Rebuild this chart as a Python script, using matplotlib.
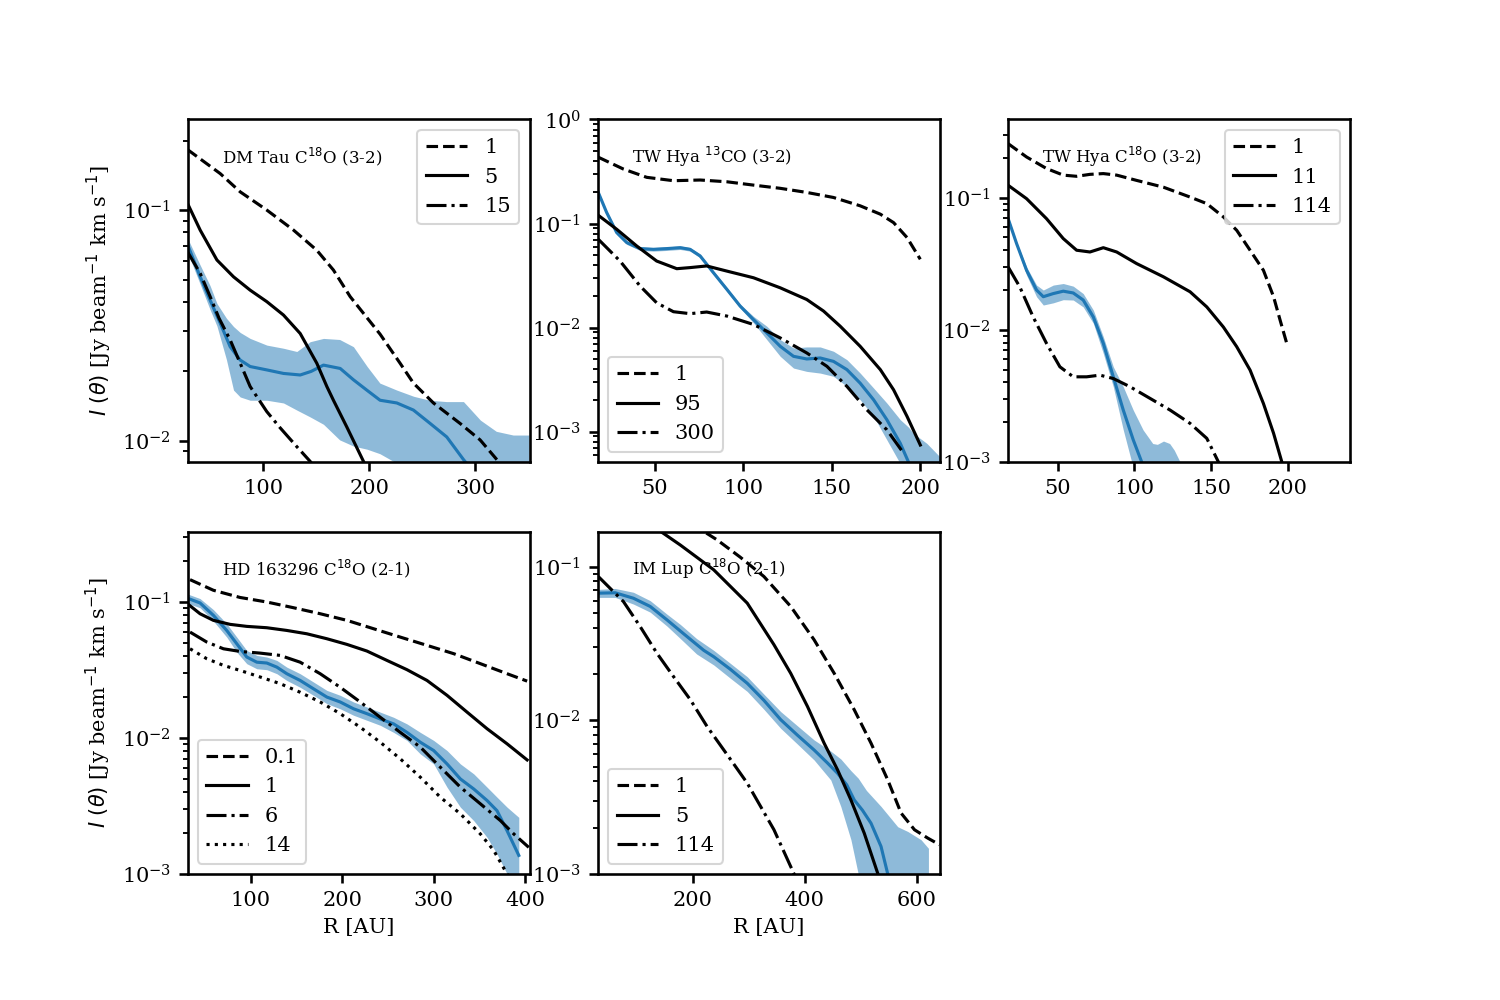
import matplotlib
matplotlib.use('Agg')
import matplotlib.pyplot as plt

plt.rcParams['font.family'] = ['DejaVu Serif']
plt.rcParams['mathtext.fontset'] = 'dejavusans'
plt.rcParams['axes.linewidth'] = 1.25
plt.rcParams['xtick.major.width'] = 1.25
plt.rcParams['ytick.major.width'] = 1.25
plt.rcParams['xtick.major.size'] = 4.5
plt.rcParams['ytick.major.size'] = 4.5
plt.rcParams['ytick.minor.width'] = 0.9
plt.rcParams['ytick.minor.size'] = 2.5

# ---------------- DM Tau C18O (3-2) ----------------
dm_labels = ['1', '5', '15']
dm_r_m1 = [28.2, 59.1, 78.0, 103.2, 128.3, 150.4, 166.1, 181.9, 210.2, 229.1, 241.7, 260.6, 285.8, 304.7, 320.5, 335.0]
dm_i_m1 = [0.183, 0.144, 0.120, 0.100, 0.082, 0.067, 0.055, 0.0422, 0.0290, 0.0217, 0.0178, 0.0146, 0.0119, 0.0101, 0.0083, 0.0070]
dm_r_m2 = [28.2, 40.2, 56.0, 71.7, 87.4, 103.2, 118.9, 134.7, 150.4, 159.9, 166.1, 178.7, 194.5, 205.0]
dm_i_m2 = [0.107, 0.0819, 0.0608, 0.0514, 0.0450, 0.0401, 0.0351, 0.0292, 0.0217, 0.0172, 0.0150, 0.0115, 0.00815, 0.0065]
dm_r_m3 = [28.2, 40.2, 49.6, 58.0, 68.5, 78.0, 87.4, 103.1, 115.7, 131.5, 144.1, 155.0]
dm_i_m3 = [0.0660, 0.0532, 0.0422, 0.0340, 0.0274, 0.0217, 0.0172, 0.0134, 0.0114, 0.00944, 0.00815, 0.0070]
dm_r = [28.2, 40.2, 49.6, 59.1, 68.5, 78.0, 87.4, 103.2, 118.9, 134.7, 145.0, 156.7, 172.5, 185.0, 197.6, 210.2, 226.0, 241.7, 257.5, 273.2, 289.0, 300.0]
dm_i = [0.0710, 0.0514, 0.0407, 0.0324, 0.0256, 0.0224, 0.0210, 0.0203, 0.0196, 0.0193, 0.0200, 0.0213, 0.0206, 0.0184, 0.0166, 0.0150, 0.0146, 0.0136, 0.0119, 0.0104, 0.0083, 0.0072]
dm_band_r = [28, 40, 49.6, 56, 65, 71.7, 78, 87.4, 103.2, 118.9, 131.5, 144.1, 156.7, 172, 185, 198, 210, 226, 242, 257, 273, 289, 305, 320, 336, 351]
dm_hi = [0.0760, 0.058, 0.047, 0.0394, 0.034, 0.0313, 0.0295, 0.0278, 0.0260, 0.0252, 0.0244, 0.0269, 0.0278, 0.0275, 0.0256, 0.0210, 0.0178, 0.0166, 0.0156, 0.0150, 0.0148, 0.0148, 0.0123, 0.0110, 0.0106, 0.0106]
dm_lo = [0.0660, 0.048, 0.037, 0.0315, 0.0225, 0.0166, 0.0155, 0.0150, 0.0150, 0.0146, 0.0136, 0.0127, 0.0118, 0.0101, 0.0095, 0.0092, 0.0088, 0.0080, 0.0075, 0.0070, 0.0065, 0.0060, 0.0055, 0.0050, 0.0050, 0.0050]

# ---------------- TW Hya 13CO (3-2) ----------------
tw13_labels = ['1', '95', '300']
tw13_r_m1 = [17.9, 32.1, 45.3, 60.4, 75.5, 90.6, 105.7, 120.8, 135.8, 150.9, 166.0, 177.4, 184.9, 192.5, 200.0]
tw13_i_m1 = [0.434, 0.334, 0.278, 0.258, 0.262, 0.252, 0.234, 0.218, 0.199, 0.178, 0.148, 0.123, 0.102, 0.0733, 0.0453]
tw13_r_m2 = [17.9, 28.3, 39.6, 50.9, 62.3, 69.8, 79.2, 90.6, 105.7, 120.8, 135.8, 145.3, 154.7, 166.0, 177.4, 184.9, 192.5, 200.0]
tw13_i_m2 = [0.120, 0.0881, 0.0609, 0.0436, 0.0368, 0.0377, 0.0391, 0.0349, 0.0301, 0.0241, 0.0186, 0.0144, 0.0103, 0.0066, 0.00394, 0.00252, 0.0014, 0.000743]
tw13_r_m3 = [17.9, 30.2, 41.5, 50.9, 60.4, 69.8, 79.2, 90.6, 105.7, 120.8, 135.8, 147.2, 158.5, 169.8, 181.1, 190.6]
tw13_i_m3 = [0.0706, 0.0436, 0.0251, 0.0173, 0.0142, 0.0136, 0.0141, 0.0129, 0.0107, 0.00795, 0.0057, 0.00424, 0.00272, 0.00162, 0.00104, 0.000618]
tw13_r = [17.9, 22.6, 28.3, 34.0, 41.5, 49.1, 56.6, 64.2, 69.8, 75.5, 83.0, 90.6, 98.1, 105.7, 113.2, 120.8, 128.3, 135.8, 143.4, 150.9, 158.5, 166.0, 173.6, 181.1, 188.7, 193.4]
tw13_i = [0.199, 0.128, 0.0819, 0.0656, 0.0574, 0.0565, 0.0574, 0.0586, 0.0565, 0.0488, 0.0337, 0.0233, 0.0161, 0.0119, 0.00889, 0.0066, 0.00529, 0.00499, 0.00510, 0.00473, 0.00394, 0.00292, 0.00202, 0.0013, 0.00077, 0.000506]
tw13_band_r = [17.9, 22.6, 28.3, 34.0, 41.5, 49.1, 56.6, 64.2, 69.8, 75.5, 83.0, 90.6, 98.1, 105.7, 113.2, 120.8, 128.3, 135.8, 143.4, 150.9, 158.5, 166.0, 173.6, 181.1, 188.7, 193.4, 196.0, 203.7, 211.0]
tw13_hi = [0.207, 0.133, 0.085, 0.068, 0.0596, 0.0587, 0.0596, 0.0609, 0.0587, 0.0507, 0.0350, 0.0243, 0.0168, 0.0128, 0.0103, 0.00766, 0.00637, 0.00651, 0.00651, 0.00592, 0.00491, 0.00365, 0.00262, 0.00188, 0.00130, 0.00110, 0.000964, 0.00077, 0.000574]
tw13_lo = [0.191, 0.123, 0.0787, 0.063, 0.0551, 0.0543, 0.0551, 0.0563, 0.0543, 0.0469, 0.0324, 0.0223, 0.0154, 0.0111, 0.00766, 0.00529, 0.00408, 0.00379, 0.00365, 0.0034, 0.00272, 0.00202, 0.0014, 0.000832, 0.00049, 0.0004, 0.0004, 0.0004, 0.0004]

# ---------------- TW Hya C18O (3-2) ----------------
tw18_labels = ['1', '11', '114']
tw18_r_m1 = [17.8, 29.8, 42.8, 53.7, 62.4, 71.1, 79.8, 88.5, 101.5, 118.9, 136.3, 147.2, 158.0, 166.7, 175.4, 184.1, 190.7, 195.0, 199.3]
tw18_i_m1 = [0.256, 0.203, 0.166, 0.148, 0.145, 0.150, 0.152, 0.148, 0.135, 0.120, 0.101, 0.0901, 0.0715, 0.0566, 0.040, 0.0282, 0.0178, 0.0118, 0.00789]
tw18_r_m2 = [17.8, 29.8, 42.8, 53.7, 62.4, 71.1, 79.8, 88.5, 101.5, 118.9, 136.3, 147.2, 158.0, 166.7, 175.4, 184.1, 190.7, 196.1, 200.0]
tw18_i_m2 = [0.124, 0.0982, 0.0693, 0.0490, 0.040, 0.0388, 0.0418, 0.0388, 0.0317, 0.0252, 0.0194, 0.0149, 0.0105, 0.00745, 0.00496, 0.00277, 0.00165, 0.001, 0.0007]
tw18_r_m3 = [17.8, 25.4, 34.1, 42.8, 51.5, 60.2, 68.9, 77.6, 86.3, 97.2, 110.2, 123.3, 136.3, 147.2, 154.8, 160.0]
tw18_i_m3 = [0.0299, 0.0211, 0.0125, 0.00789, 0.00525, 0.00441, 0.00441, 0.00454, 0.00428, 0.00371, 0.00303, 0.00247, 0.00196, 0.00151, 0.001, 0.0008]
tw18_r = [17.8, 23.3, 29.8, 36.3, 40.7, 47.2, 53.7, 60.2, 66.7, 73.3, 79.8, 86.3, 92.8, 99.3, 104.8, 110.0]
tw18_i = [0.0693, 0.0449, 0.0282, 0.020, 0.0178, 0.0188, 0.0196, 0.0190, 0.0168, 0.0125, 0.00789, 0.00441, 0.00247, 0.00147, 0.001, 0.0007]
tw18_band_r = [17.8, 23.3, 29.8, 36.3, 40.7, 47.2, 53.7, 60.2, 66.7, 73.3, 79.8, 86.3, 92.8, 99.3, 105.7, 112.0, 115.0, 119.0, 123.0, 126.0, 130.0]
tw18_hi = [0.0720, 0.0463, 0.0299, 0.0218, 0.0200, 0.0218, 0.0224, 0.0214, 0.0188, 0.0141, 0.00885, 0.00525, 0.00371, 0.00247, 0.00175, 0.00138, 0.00136, 0.00144, 0.00138, 0.00123, 0.00099]
tw18_lo = [0.0674, 0.0424, 0.0259, 0.0178, 0.0154, 0.0160, 0.0169, 0.0168, 0.0149, 0.0112, 0.00662, 0.00371, 0.00175, 0.0009, 0.0007, 0.0007, 0.0007, 0.0007, 0.0007, 0.0007, 0.0007]

# ---------------- HD 163296 C18O (2-1) ----------------
hd_labels = ['0.1', '1', '6', '14']
hd_r_m1 = [33.6, 59.1, 88.3, 117.5, 146.7, 175.9, 205.1, 234.3, 263.5, 292.7, 321.9, 351.1, 380.3, 402.2]
hd_i_m1 = [0.146, 0.122, 0.108, 0.100, 0.0908, 0.082, 0.0733, 0.0636, 0.0552, 0.048, 0.0417, 0.0352, 0.0297, 0.0262]
hd_r_m2 = [30.7, 44.5, 59.1, 77.4, 95.6, 117.5, 139.4, 161.3, 183.2, 205.1, 227.0, 248.9, 270.8, 292.7, 314.6, 336.5, 358.4, 380.3, 402.2]
hd_i_m2 = [0.0972, 0.082, 0.0733, 0.0685, 0.0662, 0.0647, 0.0618, 0.0584, 0.0537, 0.0488, 0.0436, 0.0372, 0.0318, 0.0265, 0.0206, 0.0155, 0.0117, 0.00906, 0.0069]
hd_r_m3 = [33.6, 51.8, 70.1, 88.3, 110.2, 132.1, 154.0, 175.9, 197.8, 219.7, 241.6, 263.5, 285.4, 307.3, 329.2, 351.1, 373.0, 387.6, 404.0]
hd_i_m3 = [0.0601, 0.0508, 0.0453, 0.0433, 0.0421, 0.0405, 0.0361, 0.0297, 0.0236, 0.0184, 0.0142, 0.011, 0.00857, 0.0061, 0.00435, 0.00328, 0.00247, 0.00197, 0.00157]
hd_r_m4 = [33.6, 51.8, 70.1, 88.3, 110.2, 132.1, 154.0, 175.9, 197.8, 219.7, 241.6, 263.5, 285.4, 307.3, 329.2, 351.1, 365.7, 380.3, 390.0]
hd_i_m4 = [0.0453, 0.0383, 0.0342, 0.0314, 0.0281, 0.0251, 0.0217, 0.0184, 0.0151, 0.0120, 0.00931, 0.00703, 0.00515, 0.00367, 0.00277, 0.00197, 0.00149, 0.001, 0.0008]
hd_r = [31.8, 44.5, 59.1, 73.7, 84.7, 95.6, 106.6, 117.5, 128.5, 139.4, 154.0, 168.6, 183.2, 197.8, 212.4, 227.0, 241.6, 256.2, 270.8, 285.4, 300.0, 314.6, 329.2, 343.8, 358.4, 369.3, 380.3, 393.1]
hd_i = [0.106, 0.0984, 0.0798, 0.0618, 0.0493, 0.0394, 0.0361, 0.0356, 0.0332, 0.0297, 0.0265, 0.023, 0.020, 0.0184, 0.0164, 0.0151, 0.0138, 0.0127, 0.011, 0.00931, 0.00809, 0.00645, 0.005, 0.00422, 0.00347, 0.00292, 0.00208, 0.00137]
hd_hi = [0.114, 0.106, 0.0879, 0.0692, 0.0552, 0.044, 0.0405, 0.0394, 0.0372, 0.0332, 0.0297, 0.0258, 0.0224, 0.0206, 0.0184, 0.0169, 0.0155, 0.0142, 0.0127, 0.011, 0.0096, 0.00809, 0.00645, 0.00545, 0.00435, 0.00367, 0.0031, 0.00261]
hd_lo = [0.0972, 0.0908, 0.0725, 0.0552, 0.0428, 0.0352, 0.0323, 0.0318, 0.0297, 0.0265, 0.0236, 0.0206, 0.0179, 0.0164, 0.0147, 0.0135, 0.0124, 0.011, 0.0096, 0.00764, 0.00645, 0.00435, 0.0031, 0.00247, 0.00186, 0.0014, 0.001, 0.0007]

# ---------------- IM Lup C18O (2-1) ----------------
im_labels = ['1', '5', '114']
im_r_m1 = [200.0, 220.0, 243.7, 285.0, 327.2, 375.0, 416.7, 452.6, 488.4, 518.3, 548.2, 572.0, 595.9, 619.8, 640.6]
im_i_m1 = [0.19, 0.169, 0.149, 0.115, 0.0861, 0.055, 0.0334, 0.0202, 0.0117, 0.0071, 0.00409, 0.00249, 0.00194, 0.00171, 0.00155]
im_r_m2 = [120.0, 143.0, 178.0, 237.6, 297.4, 345.1, 375.0, 404.9, 434.6, 458.6, 482.5, 506.3, 530.3, 545.0]
im_i_m2 = [0.195, 0.169, 0.138, 0.0952, 0.0578, 0.0310, 0.0202, 0.0123, 0.0071, 0.00476, 0.00303, 0.00184, 0.00101, 0.0007]
im_r_m3 = [31.6, 76.4, 106.3, 136.2, 166.0, 195.9, 225.8, 267.0, 297.4, 345.1, 381.0, 395.0]
im_i_m3 = [0.0861, 0.0592, 0.0407, 0.0273, 0.0192, 0.0136, 0.0091, 0.0056, 0.0039, 0.00194, 0.0010, 0.0008]
im_r = [31.6, 61.6, 94.3, 124.2, 154.1, 184.0, 219.8, 237.6, 267.0, 297.4, 327.0, 357.0, 387.0, 416.7, 440.0, 458.6, 475.0, 488.4, 503.0, 518.3, 536.2, 548.2]
im_i = [0.0671, 0.0675, 0.0622, 0.0550, 0.0450, 0.0365, 0.0285, 0.0259, 0.0215, 0.0174, 0.0135, 0.0101, 0.0080, 0.00641, 0.0053, 0.00452, 0.0038, 0.00303, 0.0026, 0.00214, 0.00151, 0.0010]
im_band_r = [31.6, 61.6, 94.3, 124.2, 154.1, 178.0, 207.0, 237.6, 267.0, 297.4, 327.0, 357.0, 387.0, 416.7, 446.5, 464.4, 482.5, 495.5, 510.0, 536.2, 566.0, 584.0, 607.7, 620.8]
im_hi = [0.071, 0.072, 0.068, 0.060, 0.049, 0.0420, 0.0340, 0.0285, 0.0235, 0.0192, 0.0148, 0.0114, 0.0092, 0.00745, 0.0063, 0.0056, 0.0047, 0.0042, 0.0035, 0.00275, 0.00203, 0.00189, 0.00167, 0.00147]
im_lo = [0.063, 0.063, 0.057, 0.0505, 0.041, 0.0340, 0.0270, 0.0229, 0.0188, 0.0154, 0.0118, 0.00887, 0.0070, 0.00552, 0.00409, 0.00275, 0.00167, 0.0010, 0.0007, 0.0007, 0.0007, 0.0007, 0.0007, 0.0007]

titles = [r'DM Tau C$^{18}$O (3-2)', r'TW Hya $^{13}$CO (3-2)', r'TW Hya C$^{18}$O (3-2)',
          r'HD 163296 C$^{18}$O (2-1)', r'IM Lup C$^{18}$O (2-1)']
ylabel = r'$I\ (\theta)$ [Jy beam$^{-1}$ km s$^{-1}$]'
xlabel = 'R [AU]'

panels = [
    dict(models=[(dm_r_m1, dm_i_m1, '--'), (dm_r_m2, dm_i_m2, '-'), (dm_r_m3, dm_i_m3, '-.')],
         labels=dm_labels, r=dm_r, i=dm_i, br=dm_band_r, hi=dm_hi, lo=dm_lo,
         pos=[0.125, 0.538, 0.228, 0.3425], xlim=(28.2, 351.4), ylim=(0.0081, 0.247),
         loc='upper right', ylab=True, xlab=False),
    dict(models=[(tw13_r_m1, tw13_i_m1, '--'), (tw13_r_m2, tw13_i_m2, '-'), (tw13_r_m3, tw13_i_m3, '-.')],
         labels=tw13_labels, r=tw13_r, i=tw13_i, br=tw13_band_r, hi=tw13_hi, lo=tw13_lo,
         pos=[0.3985, 0.538, 0.228, 0.3425], xlim=(17.6, 211.0), ylim=(5.1e-4, 1.0),
         loc='lower left', ylab=False, xlab=False),
    dict(models=[(tw18_r_m1, tw18_i_m1, '--'), (tw18_r_m2, tw18_i_m2, '-'), (tw18_r_m3, tw18_i_m3, '-.')],
         labels=tw18_labels, r=tw18_r, i=tw18_i, br=tw18_band_r, hi=tw18_hi, lo=tw18_lo,
         pos=[0.672, 0.538, 0.228, 0.3425], xlim=(17.7, 240.5), ylim=(1e-3, 0.39),
         loc='upper right', ylab=False, xlab=False),
    dict(models=[(hd_r_m1, hd_i_m1, '--'), (hd_r_m2, hd_i_m2, '-'), (hd_r_m3, hd_i_m3, '-.'), (hd_r_m4, hd_i_m4, ':')],
         labels=hd_labels, r=hd_r, i=hd_i, br=hd_r, hi=hd_hi, lo=hd_lo,
         pos=[0.125, 0.126, 0.228, 0.3425], xlim=(30.8, 404.8), ylim=(1e-3, 0.33),
         loc='lower left', ylab=True, xlab=True),
    dict(models=[(im_r_m1, im_i_m1, '--'), (im_r_m2, im_i_m2, '-'), (im_r_m3, im_i_m3, '-.')],
         labels=im_labels, r=im_r, i=im_i, br=im_band_r, hi=im_hi, lo=im_lo,
         pos=[0.3985, 0.126, 0.228, 0.3425], xlim=(30.6, 641.0), ylim=(1e-3, 0.169),
         loc='lower left', ylab=False, xlab=True),
]

fig = plt.figure(figsize=(10, 20 / 3), dpi=150)

for p, title in zip(panels, titles):
    ax = fig.add_axes(p['pos'])
    ax.set_yscale('log')
    ax.fill_between(p['br'], p['lo'], p['hi'], color='#1f77b4', alpha=0.5, lw=0)
    ax.plot(p['r'], p['i'], color='#1f77b4', lw=1.5)
    handles = []
    for (mr, mi, ls), lab in zip(p['models'], p['labels']):
        h, = ax.plot(mr, mi, color='black', ls=ls, lw=1.5, label=lab)
        handles.append(h)
    ax.set_xlim(*p['xlim'])
    ax.set_ylim(*p['ylim'])
    ax.legend(handles=handles, loc=p['loc'], fontsize=10)
    ax.text(0.1, 0.89, title, transform=ax.transAxes, fontsize=8, va='center', ha='left')
    if p['ylab']:
        ax.set_ylabel(ylabel)
    if p['xlab']:
        ax.set_xlabel(xlabel)

fig.savefig('out.png', dpi=150)
